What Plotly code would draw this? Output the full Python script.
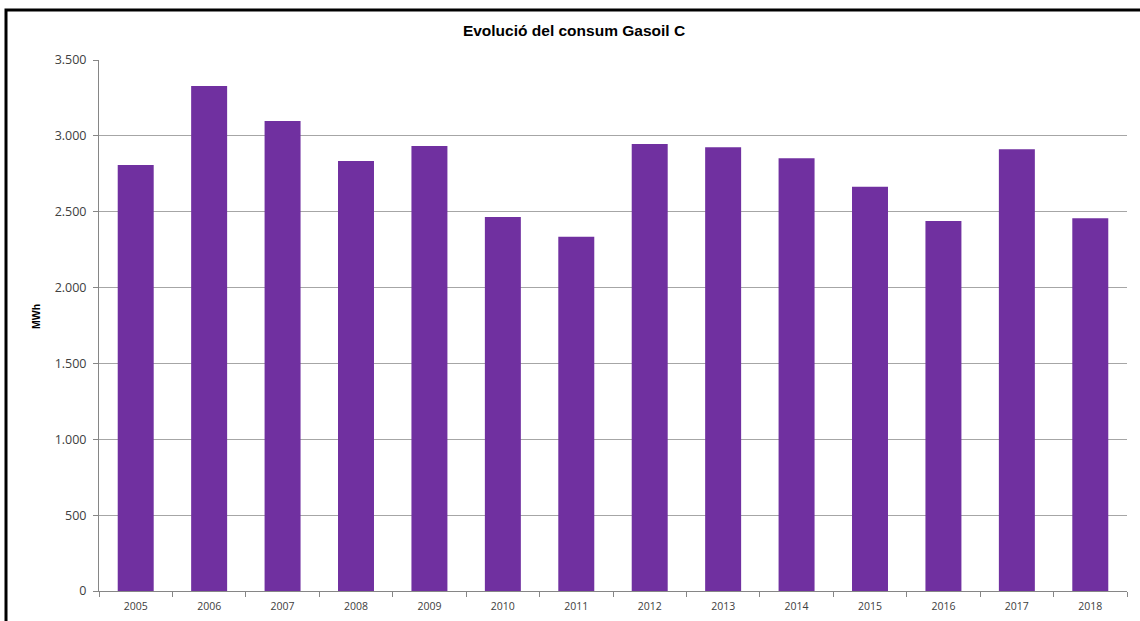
import plotly.graph_objects as go

years = ["2005", "2006", "2007", "2008", "2009", "2010", "2011",
         "2012", "2013", "2014", "2015", "2016", "2017", "2018"]
mwh = [2808, 3329, 3098, 2834, 2933, 2465, 2335,
       2946, 2925, 2852, 2665, 2439, 2911, 2457]
y_ticks = [0, 500, 1000, 1500, 2000, 2500, 3000, 3500]

W, H = 1140, 621
L, R, T, B = 99, 13, 60, 30
pw, ph = W - L - R, H - T - B

fig = go.Figure(go.Bar(x=years, y=mwh, marker=dict(color="#7030A0", line=dict(width=0)),
                       hoverinfo="x+y"))

def px2paper_x(px):
    return (px - L) / pw

def px2paper_y(py):
    return (H - B - py) / ph

fig.update_layout(
    width=W, height=H,
    margin=dict(l=L, r=R, t=T, b=B),
    paper_bgcolor="white", plot_bgcolor="white",
    separators=",.",
    bargap=0.51,
    showlegend=False,
    title=dict(text="<b>Evolució del consum Gasoil C</b>", x=(463 + 685) / 2 / W, xanchor="center",
               y=1 - 31 / H, yanchor="middle", yref="container", xref="container",
               font=dict(family="Liberation Sans, Arial", size=15.5, color="#000000")),
    xaxis=dict(type="category", showline=True, linecolor="#868686", linewidth=1,
               ticks="outside", tickson="boundaries", ticklen=5, tickcolor="#868686",
               ticklabelstandoff=5, automargin=False,
               tickfont=dict(family="Open Sans, Liberation Sans", size=10.5, color="#404040"),
               showgrid=False, fixedrange=True),
    yaxis=dict(range=[0, 3500], tickvals=y_ticks, tickformat=",d",
               showline=True, linecolor="#868686", linewidth=1,
               ticks="outside", ticklen=5, tickcolor="#868686",
               ticklabelstandoff=4, automargin=False,
               showgrid=True, gridcolor="#A6A6A6", gridwidth=1,
               zeroline=False,
               tickfont=dict(family="Open Sans, Liberation Sans", size=12.5, color="#404040"),
               fixedrange=True),
    annotations=[dict(text="<b>MWh</b>", xref="paper", yref="paper",
                      x=px2paper_x(36), y=px2paper_y(317), textangle=-90,
                      showarrow=False, xanchor="center", yanchor="middle",
                      font=dict(family="Liberation Sans, Arial", size=10.5, color="#000000"))],
    shapes=[dict(type="rect", xref="paper", yref="paper",
                 x0=px2paper_x(6), x1=px2paper_x(1160),
                 y0=px2paper_y(660), y1=px2paper_y(10),
                 line=dict(color="black", width=3), fillcolor="rgba(0,0,0,0)",
                 layer="above")],
)

fig.write_html("out.html", config={"displayModeBar": False},
               post_script="document.body.style.margin='0';document.body.style.overflow='hidden';")
